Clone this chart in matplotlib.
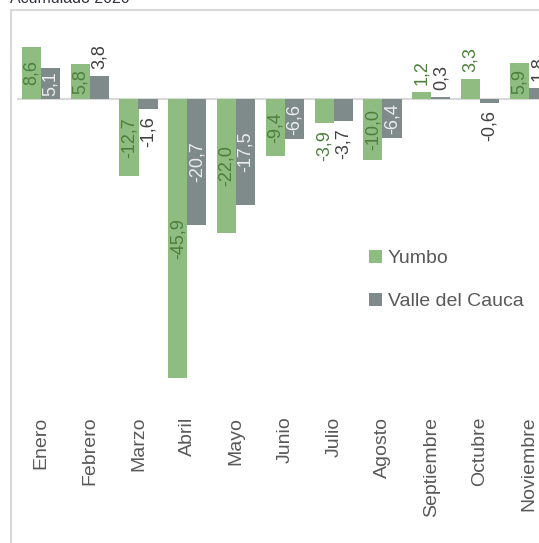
import matplotlib
matplotlib.use('Agg')
import matplotlib.pyplot as plt
from matplotlib.lines import Line2D
import numpy as np

plt.rcParams['font.family'] = ['Liberation Sans', 'DejaVu Sans']

# datos
meses = ['Enero', 'Febrero', 'Marzo', 'Abril', 'Mayo', 'Junio', 'Julio',
         'Agosto', 'Septiembre', 'Octubre', 'Noviembre']
yumbo = [8.6, 5.8, -12.7, -45.9, -22.0, -9.4, -3.9, -10.0, 1.2, 3.3, 5.9]
valle = [5.1, 3.8, -1.6, -20.7, -17.5, -6.6, -3.7, -6.4, 0.3, -0.6, 1.8]
series = ['Yumbo', 'Valle del Cauca']
titulo = 'Acumulado 2020'

verde = '#8FBC80'
gris = '#7F8A8B'
txt_verde = '#4C7F3C'
W, H = 539, 543

fig = plt.figure(figsize=(W / 100, H / 100), dpi=100)
ax = fig.add_axes([16.5 / W, (H - 400) / H, (W - 16.5) / W, 390 / H])

x = np.arange(len(meses))
ancho = 0.39
b1 = ax.bar(x - ancho / 2, yumbo, ancho, color=verde, label=series[0])
b2 = ax.bar(x + ancho / 2, valle, ancho, color=gris, label=series[1])
ax.axhline(0, color='#D9D9D9', lw=1.5, zorder=0)

ax.set_xlim(-0.5, (W - 16.5) / 48.8 - 0.5)
ax.set_ylim(-(400 - 99) / 6.078, (99 - 10) / 6.078)
for s in ax.spines.values():
    s.set_visible(False)
ax.set_yticks([])
ax.set_xticks(x)
ax.set_xticklabels(meses, rotation=90, fontsize=14, color='#595959')
ax.tick_params(axis='x', length=0, pad=12)


def etiquetas(bars, vals, col_in, col_out):
    for b, v in zip(bars, vals):
        t = f'{v:.1f}'.replace('.', ',')
        cx = b.get_x() + b.get_width() / 2
        if abs(v) >= 4.5:
            ax.text(cx, v / 2, t, rotation=90, ha='center', va='center',
                    fontsize=13, color=col_in)
        else:
            off = 5 if v >= 0 else -5
            ax.annotate(t, (cx, v), xytext=(0, off), textcoords='offset points',
                        rotation=90, ha='center',
                        va='bottom' if v >= 0 else 'top',
                        fontsize=13, color=col_out)


etiquetas(b1, yumbo, txt_verde, txt_verde)
etiquetas(b2, valle, '#EDEDED', '#404040')

fig.legend(handles=[b1, b2], labels=series, loc='upper left',
           bbox_to_anchor=(369 / W, 1 - 250 / H), frameon=False,
           fontsize=14, labelcolor='#595959', handlelength=0.67,
           handleheight=0.67, handletextpad=0.3, labelspacing=1.3,
           borderpad=0, borderaxespad=0)

# marco
fig.add_artist(Line2D([11 / W, 11 / W], [0, 1 - 9.5 / H], color='#D9D9D9', lw=1.5))
fig.add_artist(Line2D([11 / W, 1], [1 - 9.5 / H, 1 - 9.5 / H], color='#D9D9D9', lw=1.5))

fig.text(10 / W, 1 - 3 / H, titulo, fontsize=11.5, va='baseline', color='#333340')

plt.savefig('out.png')
